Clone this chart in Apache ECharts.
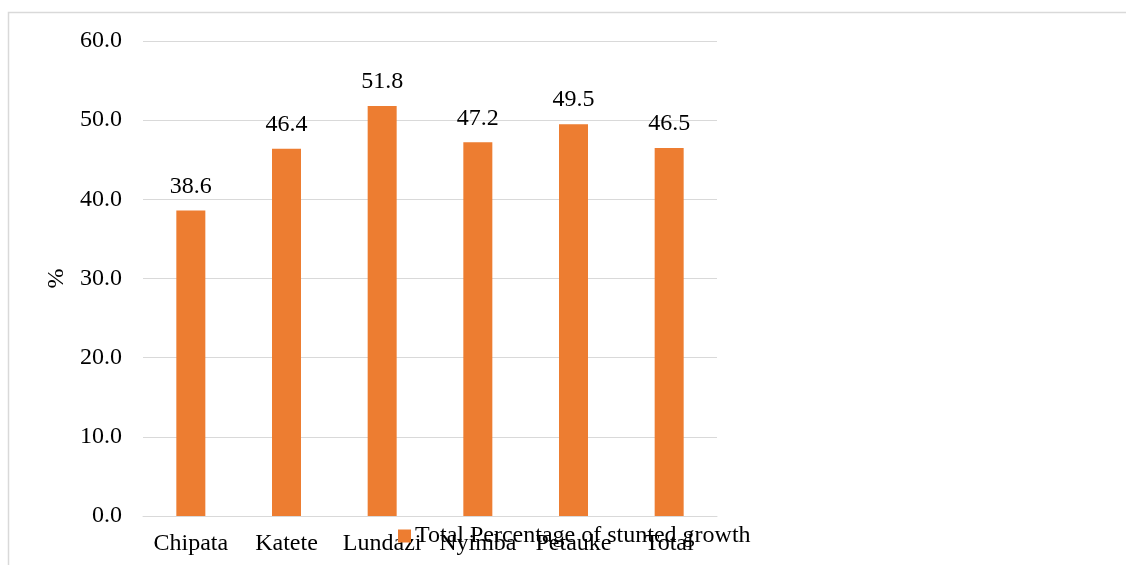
<!DOCTYPE html>
<html>
<head>
<meta charset="utf-8">
<script src="https://cdn.jsdelivr.net/npm/echarts@6/dist/echarts.min.js"></script>
<style>
  html, body { margin: 0; padding: 0; background: #fff; }
  #chart { width: 1126px; height: 565px; }
</style>
</head>
<body>
<div id="chart"></div>
<script>
// Districts and stunting percentages
const districts = ['Chipata', 'Katete', 'Lundazi', 'Nyimba', 'Petauke', 'Total'];
const stuntedPct = [38.6, 46.4, 51.8, 47.2, 49.5, 46.5];
const seriesName = 'Total Percentage of stunted growth';
const yTicks = { min: 0, max: 60, interval: 10 };

const serif = '"Liberation Serif", "Times New Roman", serif';
const fs = 24;
const chart = echarts.init(document.getElementById('chart'), null, { renderer: 'canvas' });

chart.setOption({
  animation: false,
  backgroundColor: '#ffffff',
  textStyle: { fontFamily: serif },
  graphic: [{
    type: 'rect',
    shape: { x: 8.5, y: 12.5, width: 1200, height: 600 },
    style: { fill: 'none', stroke: '#d9d9d9', lineWidth: 1.5 },
    silent: true,
    z: -1
  }],
  grid: { left: 143, right: 409, top: 41, bottom: 49, containLabel: false },
  legend: {
    data: [seriesName],
    left: 393,
    top: 519,
    itemWidth: 13,
    itemHeight: 13,
    itemGap: 6,
    icon: 'rect',
    textStyle: { fontFamily: serif, fontSize: fs, color: '#000', padding: [0, 0, 0, -1] }
  },
  xAxis: {
    type: 'category',
    data: districts,
    axisLine: { lineStyle: { color: '#d9d9d9', width: 1 } },
    axisTick: { show: false },
    axisLabel: {
      interval: 0, hideOverlap: false,
      fontFamily: serif, fontSize: fs, color: '#000', margin: 16
    }
  },
  yAxis: {
    type: 'value',
    min: yTicks.min,
    max: yTicks.max,
    interval: yTicks.interval,
    name: '%',
    nameLocation: 'middle',
    nameGap: 71,
    nameRotate: 90,
    nameTextStyle: { fontFamily: serif, fontSize: fs, color: '#000' },
    axisLine: { show: false },
    axisTick: { show: false },
    splitLine: { lineStyle: { color: '#d9d9d9', width: 1 } },
    axisLabel: {
      fontFamily: serif, fontSize: fs, color: '#000', margin: 21,
      formatter: v => v.toFixed(1)
    }
  },
  series: [{
    name: seriesName,
    type: 'bar',
    data: stuntedPct,
    barWidth: 29,
    itemStyle: { color: '#ed7d31' },
    label: {
      show: true,
      position: 'top',
      distance: 12,
      fontFamily: serif,
      fontSize: fs,
      color: '#000',
      formatter: p => p.value.toFixed(1)
    }
  }]
});
</script>
</body>
</html>
